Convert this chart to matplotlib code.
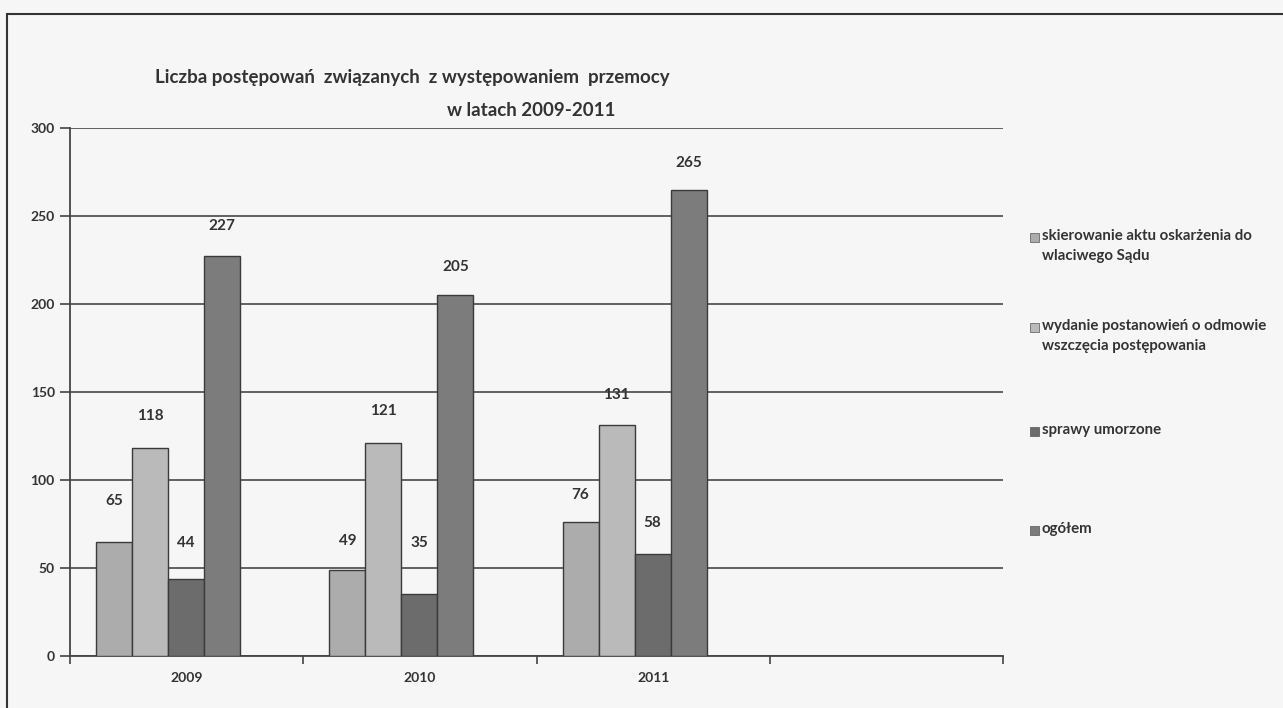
import matplotlib
matplotlib.use("Agg")
import matplotlib.pyplot as plt
from matplotlib import font_manager
from matplotlib.patches import Rectangle
import numpy as np

# data
years = ["2009", "2010", "2011", ""]
series_names = [
    "skierowanie aktu oskarżenia do\nwlaciwego Sądu",
    "wydanie postanowień o odmowie\nwszczęcia postępowania",
    "sprawy umorzone",
    "ogółem",
]
akt_oskarzenia = [65, 49, 76]
odmowa = [118, 121, 131]
umorzone = [44, 35, 58]
ogolem = [227, 205, 265]

# styling
colors = ["#acacac", "#bababa", "#6c6c6c", "#7c7c7c"]
# label offsets above bar tops (pixels), as placed in the original
label_offsets = [[41, 29, 27], [32, 32, 30], [36, 51, 31], [30, 28, 27]]

W, H = 1283, 708
plt.rcParams["font.family"] = ["Lato", "DejaVu Sans"]
fig = plt.figure(figsize=(W / 100, H / 100), dpi=100, facecolor="#f6f6f6")
ax = fig.add_axes([70 / W, 1 - 656 / H, 933 / W, 528 / H])
ax.set_facecolor("#f6f6f6")

# outer frame
fig.patches.append(Rectangle((7 / W, -0.1), 1.2, (H - 14) / H + 0.1,
                             transform=fig.transFigure, fill=False,
                             edgecolor="#333333", lw=1.5))

all_series = [akt_oskarzenia, odmowa, umorzone, ogolem]
bar_w = 36 / 233
start = -0.5 + 26 / 233
x = np.arange(3)
for i, vals in enumerate(all_series):
    xs = x + start + bar_w * (i + 0.5)
    ax.bar(xs, vals, width=bar_w, color=colors[i], edgecolor="#3a3a3a",
           linewidth=1.0, zorder=3)
    for xi, v, off in zip(xs, vals, label_offsets[i]):
        ax.annotate(str(v), (xi, v), xytext=(0, off * 0.72), textcoords="offset points",
                    ha="center", va="center", fontsize=11, fontweight="bold",
                    color="#333333")

ax.set_xlim(-0.5, 3.5)
ax.set_ylim(0, 300)
ax.set_yticks(range(0, 301, 50))
ax.yaxis.grid(True, color="#555555", lw=1.3, zorder=1)
ax.set_axisbelow(True)
ax.set_xticks([-0.5, 0.5, 1.5, 2.5, 3.5])
ax.set_xticklabels([])
for i, y in enumerate(years):
    ax.text(i, -12.5, y, ha="center", va="center", fontsize=10, fontweight="bold",
            color="#333333")
ax.tick_params(axis="y", direction="out", length=7, width=1.2, color="#444444",
               labelsize=10, labelcolor="#333333", pad=4)
ax.tick_params(axis="x", direction="out", length=6, width=1.2, color="#444444")
for t in ax.get_yticklabels():
    t.set_fontweight("bold")
for s in ["top", "right"]:
    ax.spines[s].set_visible(False)
for s in ["left", "bottom"]:
    ax.spines[s].set_color("#444444")
    ax.spines[s].set_linewidth(1.3)

# title: prefer a narrow face (the original is Calibri), else Lato a bit smaller
names = {f.name for f in font_manager.fontManager.ttflist}
title_kw = dict(va="center", fontweight="bold", color="#333333")
if "Liberation Sans Narrow" in names:
    title_kw["family"] = ["Liberation Sans Narrow", "DejaVu Sans"]
    fs = 15.5
else:
    title_kw["family"] = ["Lato", "DejaVu Sans"]
    fs = 13.5
fig.text(412 / W, 1 - 78 / H, "Liczba postępowań  związanych  z występowaniem  przemocy",
         ha="center", fontsize=fs, **title_kw)
fig.text(531 / W, 1 - 110 / H, "w latach 2009-2011", ha="center", fontsize=fs, **title_kw)

# legend
leg_y = [237, 327, 431, 530]
for name, c, ly in zip(series_names, colors, leg_y):
    fig.patches.append(Rectangle((1030 / W, 1 - (ly + 5) / H), 9 / W, 9 / H,
                                 transform=fig.transFigure, facecolor=c,
                                 edgecolor="#555555", lw=0.5))
    fig.text(1042 / W, 1 - (ly - 8) / H, name, ha="left", va="top", fontsize=10.8,
             color="#333333", linespacing=1.55, fontweight="bold")

fig.savefig("out.png", dpi=100, facecolor=fig.get_facecolor())
